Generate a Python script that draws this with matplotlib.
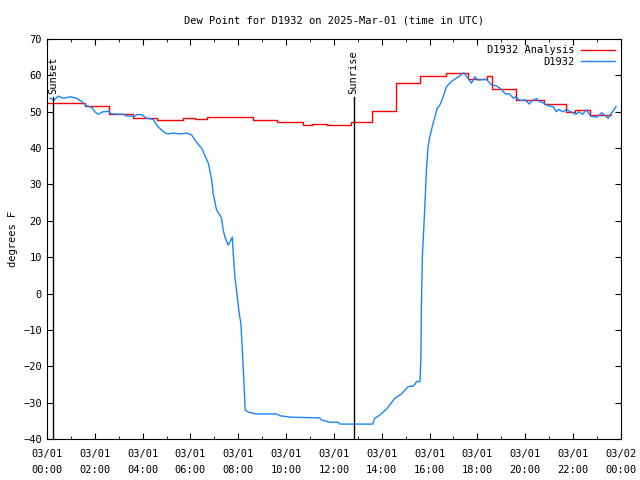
import matplotlib
matplotlib.use('Agg')
import matplotlib.pyplot as plt
import numpy as np

plt.rcParams['font.family'] = ['DejaVu Sans Mono']
plt.rcParams['font.size'] = 7.5

# Analysis (hourly step values): start hour of each step and value, last step ends at red_end
red_t = [0, 1.6, 2.6, 3.6, 4.6, 5.7, 6.2, 6.7, 8.6, 9.6, 10.7, 11.1, 11.7, 12.7,
         13.6, 14.6, 15.6, 16.7, 17.6, 18.4, 18.6, 19.6, 20.8, 21.7, 22.1, 22.7]
red_v = [52.4, 51.5, 49.3, 48.2, 47.7, 48.2, 47.9, 48.5, 47.7, 47.2, 46.4, 46.6, 46.3, 47.2,
         50.2, 57.8, 59.7, 60.6, 58.9, 59.8, 56.3, 53.1, 52.1, 50.0, 50.4, 49.0]
red_end = 23.6

# Observations (hours after 03/01 00:00 UTC, dew point F)
blue_t = [0.13, 0.3, 0.47, 0.68, 0.99, 1.24, 1.45, 1.66, 1.87, 2.0, 2.15, 2.35, 2.56, 2.7,
          3.19, 3.33, 3.68, 3.75, 3.96, 4.17, 4.45, 4.59, 4.72, 4.93, 5.07, 5.28, 5.56, 5.84,
          6.05, 6.19, 6.33, 6.47, 6.6, 6.75, 6.89, 6.95, 7.02, 7.09, 7.23, 7.3, 7.37, 7.44,
          7.58, 7.75, 7.79, 7.86, 7.96, 8.04, 8.11, 8.17, 8.24, 8.29, 8.42, 8.74, 9.6, 9.74,
          10.2, 11.4, 11.5, 11.83, 12.18, 12.25, 13.62, 13.71, 13.92, 14.2, 14.55, 14.83,
          15.1, 15.34, 15.46, 15.6, 15.64, 15.66, 15.7, 15.8, 15.87, 15.94, 16.01, 16.15,
          16.32, 16.43, 16.57, 16.71, 16.92, 17.2, 17.43, 17.61, 17.75, 17.89, 18.03, 18.38,
          18.59, 18.8, 19.0, 19.17, 19.35, 19.5, 19.6, 19.75, 19.9, 20.0, 20.17, 20.3, 20.48,
          20.6, 20.8, 20.96, 21.17, 21.3, 21.4, 21.57, 21.75, 21.9, 22.12, 22.26, 22.4, 22.56,
          22.73, 23.0, 23.2, 23.48, 23.62, 23.8]
blue_v = [53.7, 53.2, 54.3, 53.7, 54.1, 53.7, 52.8, 51.6, 51.2, 50.0, 49.3, 50.0, 50.1, 49.4,
          49.3, 48.8, 48.8, 49.2, 49.2, 48.2, 47.9, 46.3, 45.4, 44.2, 43.9, 44.1, 43.9, 44.1,
          43.6, 42.2, 41.0, 39.9, 38.0, 35.8, 31.2, 27.6, 25.3, 23.0, 21.6, 20.7, 17.5, 15.6,
          13.3, 15.5, 11.1, 4.6, -0.9, -5.5, -8.2, -15.5, -24.7, -32.0, -32.6, -33.1, -33.1, -33.6,
          -34.0, -34.2, -34.8, -35.4, -35.4, -35.9, -35.9, -34.3, -33.4, -31.8, -28.8, -27.6,
          -25.6, -25.4, -24.2, -24.2, -17.4, -3.6, 10.1, 23.4, 34.0, 40.4, 43.1, 46.8,
          50.9, 51.8, 54.1, 56.9, 58.3, 59.6, 60.7, 59.2, 57.8, 59.6, 58.7, 58.9,
          57.4, 57.1, 56.2, 54.9, 54.9, 53.7, 54.1, 53.2, 53.1, 53.3, 52.1, 53.1, 53.6,
          52.8, 52.3, 51.6, 51.4, 50.0, 50.6, 50.0, 50.6, 50.0, 49.3, 50.0, 49.3, 50.5,
          48.8, 48.5, 49.7, 48.2, 49.7, 51.4]

sunset_h = 0.25
sunrise_h = 12.83

tick_hours = list(range(0, 25, 2))
tick_labels = ['03/01\n%02d:00' % h for h in range(0, 24, 2)] + ['03/02\n00:00']

fig = plt.figure(figsize=(6.4, 4.8), dpi=100)
ax = fig.add_axes([0.0734, 0.0854, 0.8966, 0.8334])

ax.step(red_t + [red_end], red_v + [red_v[-1]], where='post', color='#ff0000', lw=1.0,
        label='D1932 Analysis')
ax.plot(blue_t, blue_v, color='#1a84ff', lw=1.0, label='D1932')

# sunset / sunrise markers
for h, name in [(sunset_h, 'Sunset'), (sunrise_h, 'Sunrise')]:
    ax.plot([h, h], [-40, 54.0], color='black', lw=1.0)
    ax.text(h, 55.0, name, rotation=90, ha='center', va='bottom')

ax.set_xlim(0, 24)
ax.set_ylim(-40, 70)
ax.set_xticks(tick_hours)
ax.set_xticklabels(tick_labels, linespacing=1.75)
ax.set_xticks(range(0, 25), minor=True)
ax.set_yticks(range(-40, 71, 10))
ax.tick_params(direction='in', top=True, right=True, which='both', length=4)
ax.tick_params(which='minor', length=2)
ax.tick_params(axis='x', pad=7)

ax.set_title('Dew Point for D1932 on 2025-Mar-01 (time in UTC)', fontsize=7.5, pad=11)
ax.set_ylabel('degrees F')

ax.legend(loc='upper right', frameon=False, markerfirst=False, handlelength=3.2,
          borderaxespad=0.2, labelspacing=0.15, handletextpad=0.6)

fig.savefig('out.png', dpi=100)
